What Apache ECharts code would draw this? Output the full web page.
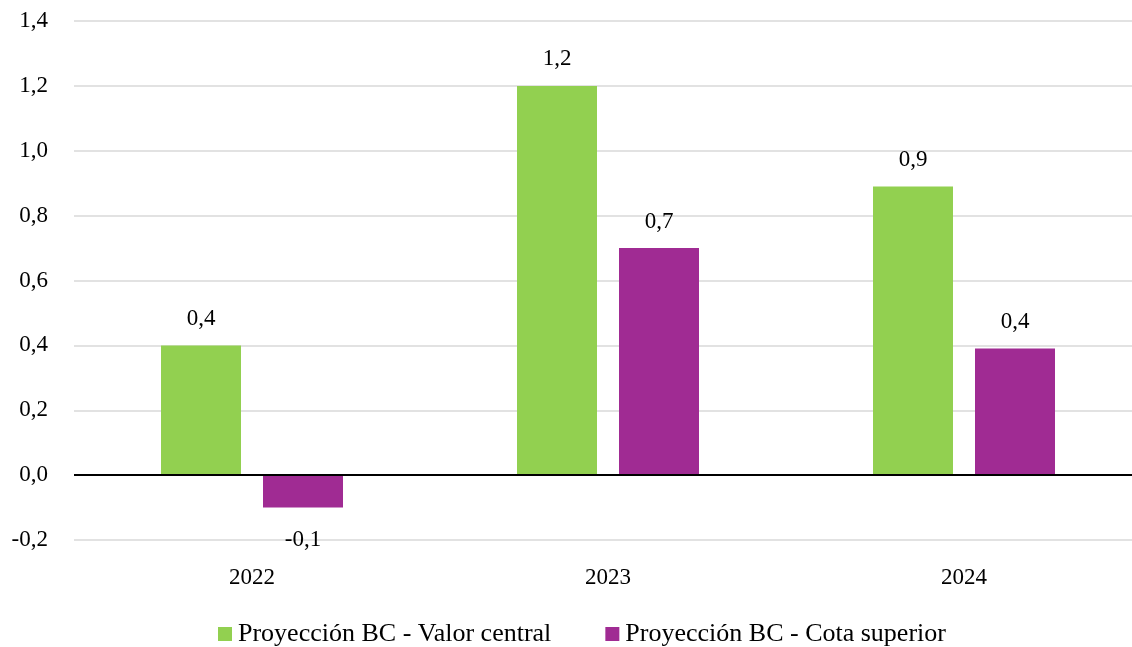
<!DOCTYPE html>
<html>
<head>
<meta charset="utf-8">
<script src="https://cdn.jsdelivr.net/npm/echarts@6/dist/echarts.min.js"></script>
<style>
  html, body { margin: 0; padding: 0; background: #ffffff; }
  #chart { width: 1132px; height: 647px; }
</style>
</head>
<body>
<div id="chart"></div>
<script>
// Categories and series values
const years = ['2022', '2023', '2024'];
const valorCentral = [0.40, 1.20, 0.89];
const cotaSuperior = [-0.10, 0.70, 0.39];
const seriesNames = ['Proyección BC - Valor central', 'Proyección BC - Cota superior'];

const FONT = "'Liberation Serif', 'Times New Roman', serif";
const fmt = v => Number(v).toFixed(1).replace('.', ',');

function withLabels(values) {
  return values.map(v => ({
    value: v,
    label: { position: v < 0 ? 'bottom' : 'top', distance: v < 0 ? 21 : 15 }
  }));
}

const chart = echarts.init(document.getElementById('chart'), null, { renderer: 'canvas' });
chart.setOption({
  animation: false,
  backgroundColor: '#ffffff',
  textStyle: { fontFamily: FONT },
  // the plot area runs slightly past the right edge, so the last band is cut off
  grid: { left: 74, right: -10, top: 21, bottom: 107, containLabel: false, outerBoundsMode: 'none' },
  legend: {
    top: 621,
    left: 218,
    padding: 0,
    itemWidth: 14,
    itemHeight: 14,
    itemGap: 54,
    icon: 'rect',
    textStyle: { fontFamily: FONT, fontSize: 26, color: '#000000', padding: [0, 0, 0, 1] },
    data: seriesNames
  },
  xAxis: {
    type: 'category',
    data: years,
    axisLine: { show: false },
    axisTick: { show: false },
    axisLabel: { fontFamily: FONT, fontSize: 23, color: '#000000', margin: 26 }
  },
  yAxis: {
    type: 'value',
    min: -0.2,
    max: 1.4,
    interval: 0.2,
    axisLine: { show: false },
    axisTick: { show: false },
    splitLine: { lineStyle: { color: '#d9d9d9', width: 1.5 } },
    axisLabel: { fontFamily: FONT, fontSize: 23, color: '#000000', margin: 26, formatter: fmt }
  },
  series: [
    {
      name: seriesNames[0],
      type: 'bar',
      data: withLabels(valorCentral),
      barWidth: 80,
      barGap: '27.5%',
      itemStyle: { color: '#92d050' },
      label: { show: true, fontFamily: FONT, fontSize: 23, color: '#000000', formatter: p => fmt(p.value) },
      markLine: {
        silent: true,
        symbol: 'none',
        label: { show: false },
        lineStyle: { color: '#000000', width: 2, type: 'solid' },
        data: [{ yAxis: 0 }]
      }
    },
    {
      name: seriesNames[1],
      type: 'bar',
      data: withLabels(cotaSuperior),
      barWidth: 80,
      itemStyle: { color: '#a02b93' },
      label: { show: true, fontFamily: FONT, fontSize: 23, color: '#000000', formatter: p => fmt(p.value) }
    }
  ]
});
</script>
</body>
</html>
